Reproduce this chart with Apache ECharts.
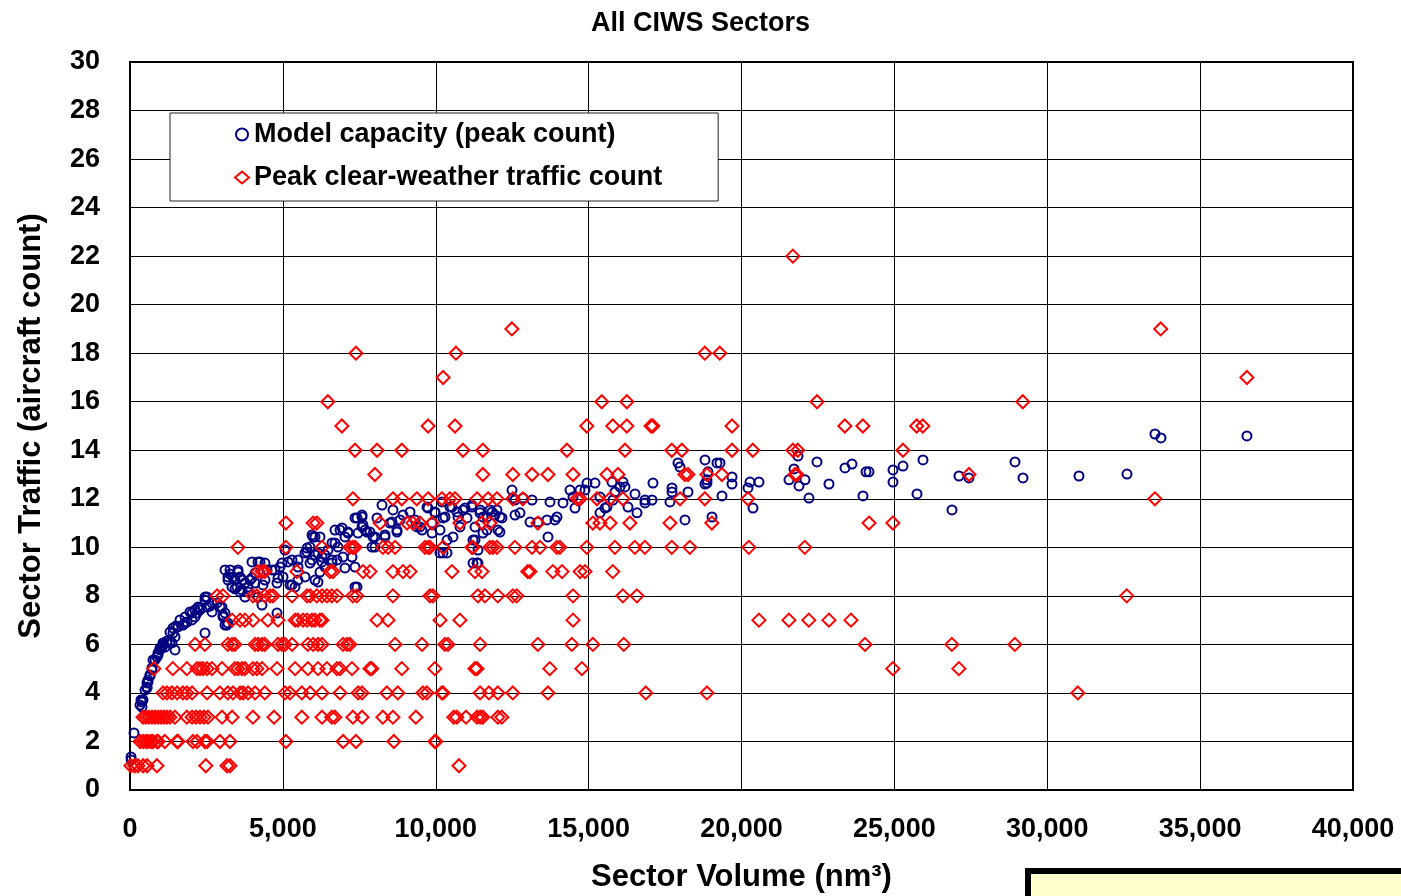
<!DOCTYPE html>
<html>
<head>
<meta charset="utf-8">
<title>All CIWS Sectors</title>
<script src="https://cdn.jsdelivr.net/npm/echarts@6/dist/echarts.min.js"></script>
<style>
  html, body { margin: 0; padding: 0; background: #fff; }
  #chart { width: 1401px; height: 896px; }
</style>
</head>
<body>
<div id="chart"></div>
<script>
// tick labels
const xTicks = [0, 5000, 10000, 15000, 20000, 25000, 30000, 35000, 40000];
const yTicks = [0, 2, 4, 6, 8, 10, 12, 14, 16, 18, 20, 22, 24, 26, 28, 30];

// model capacity: [sector volume, peak count]
const modelCapacity = [
  [33, 1.36], [40, 1.24], [131, 2.35], [327, 3.5], [360, 3.71], [392, 3.63], [392, 3.42], [425, 3.71],
  [491, 4.12], [556, 4.41], [556, 4.24], [556, 4.2], [589, 4.45], [589, 4.53], [654, 4.7], [654, 4.74],
  [720, 5.03], [720, 4.95], [752, 5.36], [818, 5.36], [883, 5.48], [916, 5.56], [916, 5.65], [981, 5.85],
  [981, 5.77], [1047, 5.89], [1079, 6.06], [1079, 5.98], [1145, 5.89], [1210, 6.14], [1210, 6.06],
  [1308, 6.51], [1308, 6.1], [1374, 6.06], [1406, 6.68], [1406, 6.47], [1472, 5.77], [1472, 6.31],
  [1504, 6.76], [1570, 6.72], [1635, 7.01], [1733, 6.8], [1799, 7.13], [1799, 6.88], [1864, 6.92],
  [1962, 7.34], [2028, 7.01], [2028, 7.29], [2126, 7.42], [2126, 7.13], [2191, 7.29], [2224, 7.54],
  [2289, 7.5], [2289, 7.42], [2453, 7.83], [2453, 7.95], [2453, 6.47], [2518, 7.95], [2518, 7.54],
  [2616, 7.58], [2682, 7.34], [2682, 7.71], [2845, 7.71], [2944, 7.54], [3009, 7.54], [3042, 7.21],
  [3042, 7.13], [3107, 6.8], [3107, 9.07], [3107, 7.29], [3172, 6.8], [3205, 8.65], [3205, 8.78],
  [3205, 6.88], [3271, 8.9], [3271, 9.07], [3336, 8.37], [3369, 8.78], [3434, 8.29], [3434, 8.65],
  [3500, 8.37], [3532, 8.98], [3532, 9.07], [3598, 8.16], [3598, 8.78], [3663, 8.24], [3696, 8.65],
  [3761, 7.95], [3761, 8.53], [3859, 8.16], [3859, 8.37], [3925, 8.65], [3990, 8.74], [3990, 9.4],
  [4088, 8.53], [4088, 8.94], [4186, 7.95], [4186, 9.4], [4252, 9.4], [4317, 7.62], [4350, 8.45],
  [4415, 8.65], [4415, 9.35], [4481, 9.07], [4644, 9.07], [4742, 9.07], [4808, 7.29], [4808, 8.53],
  [4840, 8.74], [4906, 9.19], [4971, 9.35], [5004, 8.78], [5069, 9.89], [5168, 9.4], [5233, 8.45],
  [5298, 8.45], [5298, 9.48], [5396, 8.37], [5495, 8.65], [5495, 9.48], [5495, 9.19], [5724, 8.78],
  [5724, 9.77], [5789, 9.81], [5789, 9.97], [5887, 9.35], [5887, 10.01], [5953, 10.51], [5953, 9.48],
  [5985, 10.43], [6051, 9.68], [6051, 8.65], [6051, 10.43], [6149, 8.57], [6149, 9.77], [6214, 10.43],
  [6214, 8.98], [6280, 9.4], [6280, 9.6], [6378, 9.68], [6378, 9.19], [6476, 9.89], [6607, 9.48],
  [6607, 10.18], [6607, 9.35], [6705, 10.18], [6705, 10.71], [6770, 9.48], [6803, 10.01], [6868, 10.71],
  [6934, 10.8], [6966, 9.6], [7032, 9.15], [7032, 10.43], [7130, 10.59], [7130, 10.63], [7261, 9.6],
  [7359, 8.37], [7359, 9.19], [7359, 11.21], [7424, 11.21], [7424, 8.37], [7457, 10.59], [7588, 11.33],
  [7588, 10.84], [7588, 11.25], [7620, 10.92], [7686, 10.71], [7751, 10.63], [7849, 10.63],
  [7915, 10.01], [7948, 10.43], [8013, 10.01], [8013, 10.43], [8078, 11.21], [8242, 11.74], [8340, 10.51],
  [8340, 10.43], [8504, 11.0], [8569, 11.04], [8602, 11.54], [8732, 10.63], [8732, 10.71], [8831, 11.13],
  [8929, 11.33], [9158, 11.46], [9321, 11.13], [9387, 10.84], [9485, 10.84], [9550, 10.71], [9714, 11.66],
  [9746, 11.62], [9877, 11.0], [9877, 10.59], [9975, 11.46], [9975, 11.42], [10139, 10.71], [10139, 9.77],
  [10204, 11.87], [10237, 11.21], [10237, 9.77], [10302, 11.25], [10368, 10.3], [10368, 9.77],
  [10466, 11.66], [10531, 11.66], [10564, 10.43], [10695, 11.46], [10728, 11.25], [10793, 10.84],
  [10891, 11.54], [10957, 11.62], [11022, 11.21], [11185, 11.74], [11185, 11.66], [11218, 9.35],
  [11218, 10.3], [11284, 10.3], [11284, 10.84], [11349, 9.35], [11382, 9.89], [11382, 9.35],
  [11447, 11.54], [11447, 11.42], [11545, 11.25], [11545, 10.59], [11676, 10.71], [11676, 11.25],
  [11774, 11.54], [11840, 11.46], [11938, 11.33], [12003, 11.54], [12036, 10.71], [12101, 10.63],
  [12101, 11.25], [12167, 11.21], [12494, 12.36], [12526, 12.03], [12592, 11.33], [12592, 11.95],
  [12755, 11.42], [12853, 12.03], [13082, 11.04], [13148, 11.95], [13344, 11.04], [13638, 11.13],
  [13671, 10.43], [13737, 11.87], [13900, 11.13], [13965, 11.25], [14162, 11.83], [14391, 12.36],
  [14489, 12.07], [14554, 11.62], [14718, 12.36], [14881, 12.36], [14947, 12.65], [15208, 12.65],
  [15372, 11.42], [15372, 12.07], [15535, 11.62], [15601, 11.66], [15764, 12.69], [15797, 11.95],
  [15862, 12.28], [16026, 12.49], [16124, 12.69], [16189, 12.49], [16288, 11.66], [16517, 12.2],
  [16582, 11.42], [16844, 11.95], [16844, 11.83], [17073, 11.95], [17105, 12.65], [17661, 11.87],
  [17727, 12.45], [17727, 12.28], [17923, 13.48], [17988, 13.31], [18152, 11.13], [18250, 12.28],
  [18806, 13.6], [18806, 12.61], [18871, 12.65], [18871, 12.78], [18904, 13.11], [19035, 11.25],
  [19198, 13.48], [19297, 13.48], [19362, 12.12], [19689, 12.9], [19689, 12.61], [20212, 12.45],
  [20278, 12.69], [20376, 11.62], [20572, 12.69], [21553, 12.78], [21717, 13.23], [21848, 13.76],
  [21880, 12.53], [22077, 12.78], [22207, 12.03], [22469, 13.52], [22861, 12.61], [23385, 13.27],
  [23614, 13.43], [23973, 12.12], [24072, 13.11], [24170, 13.11], [24955, 13.19], [24955, 12.69],
  [25282, 13.35], [25740, 12.2], [25936, 13.6], [26884, 11.54], [27113, 12.94], [27440, 12.86],
  [28945, 13.52], [29206, 12.86], [31038, 12.94], [32608, 13.02], [33523, 14.67], [33719, 14.51],
  [36531, 14.59]
];

// peak clear-weather traffic: [count, sector volumes with that count]
const peakTrafficRows = [
  [1, [30, 150, 260, 430, 560, 880, 2480, 3170, 3270, 10760]],
  [2, [330, 430, 520, 590, 690, 750, 880, 920, 1140, 1540, 1570, 2060, 2190, 2450, 2520, 2940, 3270,
       5100, 6970, 7390, 8630, 9970, 10000]],
  [3, [425, 520, 620, 720, 820, 915, 1015, 1110, 1210, 1310, 1470, 1860, 2030, 2160, 2290, 2420, 2550,
       3010, 3340, 4020, 4710, 5620, 6280, 6600, 6700, 7290, 7590, 8270, 8600, 9350, 10590, 10690,
       10990, 11350, 11450, 11540, 12030, 12160]],
  [4, [1080, 1210, 1370, 1540, 1730, 1860, 2030, 2520, 2940, 3200, 3370, 3600, 3700, 3860, 4090, 4410,
       5070, 5230, 5620, 5890, 6280, 6870, 7460, 7590, 8400, 8760, 9580, 9710, 10200, 10240, 11450,
       11740, 12030, 12520, 13670, 16870, 18870, 31000]],
  [5, [780, 1400, 1860, 2190, 2290, 2390, 2520, 2680, 3010, 3430, 3530, 3660, 3760, 4020, 4150, 4320,
       4810, 5400, 5820, 6150, 6440, 6770, 6870, 7260, 7850, 7910, 8890, 9970, 11280, 11350, 13730,
       14780, 24950, 27110]],
  [6, [2130, 2450, 3200, 3340, 3430, 4090, 4190, 4320, 4410, 4840, 4970, 5070, 5300, 5820, 5990, 6150,
       6280, 6970, 7100, 7190, 8670, 9550, 10300, 10400, 11450, 13340, 14450, 15140, 16150, 24040,
       26880, 28940]],
  [7, [3340, 3600, 3760, 4020, 4510, 4840, 5400, 5490, 5660, 5790, 5950, 6050, 6210, 6280, 8080, 8440,
       10140, 10790, 14490, 20570, 21550, 22200, 22860, 23580]],
  [8, [2850, 3040, 4020, 4150, 4410, 4580, 4680, 5300, 5790, 5890, 6110, 6280, 6440, 6600, 6770, 7290,
       7420, 8600, 9810, 9910, 11380, 11610, 12030, 12520, 12650, 14490, 16120, 16580, 32600]],
  [9, [4190, 4320, 4410, 5460, 6540, 6640, 7620, 7850, 8600, 8930, 9160, 10530, 11280, 11510, 13010,
       13080, 13830, 14130, 14720, 14880, 15790]],
  [10, [3530, 5100, 6280, 7190, 7290, 7360, 8270, 8440, 8670, 9650, 9750, 9810, 10240, 11180, 11220,
        11770, 11870, 12000, 12590, 13150, 13410, 13960, 14060, 14940, 15860, 16510, 16840, 17720,
        18310, 20240, 22070]],
  [11, [5100, 5990, 6110, 8180, 9060, 9250, 9480, 9880, 10790, 11510, 11770, 13340, 15140, 15370, 15700,
        16350, 17660, 19030, 24170, 24950]],
  [12, [7290, 8600, 8890, 9380, 9750, 10200, 10460, 10630, 11350, 11710, 12000, 12520, 12850, 14620,
        14720, 15270, 15700, 16120, 17990, 18800, 20210, 33520]],
  [13, [8010, 11540, 12520, 13150, 13670, 14490, 15600, 15960, 18150, 18250, 18870, 19360, 21750, 21810,
        27440]],
  [14, [7360, 8080, 8890, 10890, 11540, 14290, 16190, 17720, 18050, 19690, 20370, 21680, 21840, 25280]],
  [15, [6930, 9750, 10630, 14940, 15790, 16250, 17040, 17100, 19690, 23380, 23970, 25730, 25930]],
  [16, [6470, 15430, 16250, 22470, 29200]],
  [17, [10240, 36530]],
  [18, [7390, 10660, 18800, 19290]],
  [19, [12490, 33710]],
  [22, [21680]]
];

const peakTraffic = [];
peakTrafficRows.forEach(([count, vols]) => {
  vols.forEach(v => peakTraffic.push([v, count]));
});

const FONT = '"Liberation Sans", Arial, sans-serif';

const chart = echarts.init(document.getElementById('chart'));

const option = {
  backgroundColor: '#fff',
  animation: false,
  title: {
    text: 'All CIWS Sectors',
    left: 'center',
    top: 5,
    textStyle: {fontFamily: FONT, fontSize: 27, fontWeight: 'bold', color: '#000'}
  },
  legend: {
    orient: 'vertical',
    left: 170,
    top: 113,
    selectedMode: false,
    backgroundColor: '#fff',
    borderColor: '#222',
    borderWidth: 1,
    padding: [6, 56, 8, 64],
    itemGap: 12,
    itemWidth: 14,
    itemHeight: 12,
    textStyle: {fontFamily: FONT, fontSize: 27, fontWeight: 'bold', color: '#000', lineHeight: 31},
    data: [
      {name: 'Model capacity (peak count)', icon: 'circle'},
      {name: 'Peak clear-weather traffic count', icon: 'diamond'}
    ]
  },
  grid: {
    left: 130,
    right: 48,
    top: 62,
    bottom: 106,
    outerBoundsMode: 'none',
    show: true,
    borderColor: '#000',
    borderWidth: 2,
    backgroundColor: '#fff'
  },
  xAxis: {
    type: 'value',
    min: xTicks[0],
    max: xTicks[xTicks.length - 1],
    interval: 5000,
    name: 'Sector Volume (nm³)',
    nameLocation: 'middle',
    nameGap: 72,
    nameTextStyle: {fontFamily: FONT, fontSize: 31, fontWeight: 'bold', color: '#000'},
    axisLine: {show: true, lineStyle: {color: '#000', width: 2}},
    axisTick: {show: false},
    splitLine: {show: true, lineStyle: {color: '#000', width: 1}},
    axisLabel: {
      margin: 26,
      fontFamily: FONT,
      fontSize: 27,
      fontWeight: 'bold',
      color: '#000',
      formatter: v => v.toLocaleString('en-US')
    }
  },
  yAxis: {
    type: 'value',
    min: yTicks[0],
    max: yTicks[yTicks.length - 1],
    interval: 2,
    name: 'Sector Traffic (aircraft count)',
    nameLocation: 'middle',
    nameGap: 83,
    nameTextStyle: {fontFamily: FONT, fontSize: 31, fontWeight: 'bold', color: '#000'},
    axisLine: {show: true, lineStyle: {color: '#000', width: 2}},
    axisTick: {show: false},
    splitLine: {show: true, lineStyle: {color: '#000', width: 1}},
    axisLabel: {
      margin: 30,
      fontFamily: FONT,
      fontSize: 27,
      fontWeight: 'bold',
      color: '#000'
    }
  },
  series: [
    {
      name: 'Model capacity (peak count)',
      type: 'scatter',
      symbol: 'circle',
      symbolSize: 9,
      itemStyle: {color: 'rgba(0,0,0,0)', borderColor: '#000080', borderWidth: 2, opacity: 1},
      data: modelCapacity
    },
    {
      name: 'Peak clear-weather traffic count',
      type: 'scatter',
      symbol: 'diamond',
      symbolSize: 13,
      itemStyle: {color: 'rgba(0,0,0,0)', borderColor: '#ff0000', borderWidth: 2, opacity: 1},
      data: peakTraffic
    }
  ],
  graphic: [
    {
      type: 'rect',
      shape: {x: 1028, y: 871, width: 420, height: 60},
      style: {fill: '#ffffcc', stroke: '#000', lineWidth: 6},
      silent: true
    }
  ]
};

chart.setOption(option);
</script>
</body>
</html>
